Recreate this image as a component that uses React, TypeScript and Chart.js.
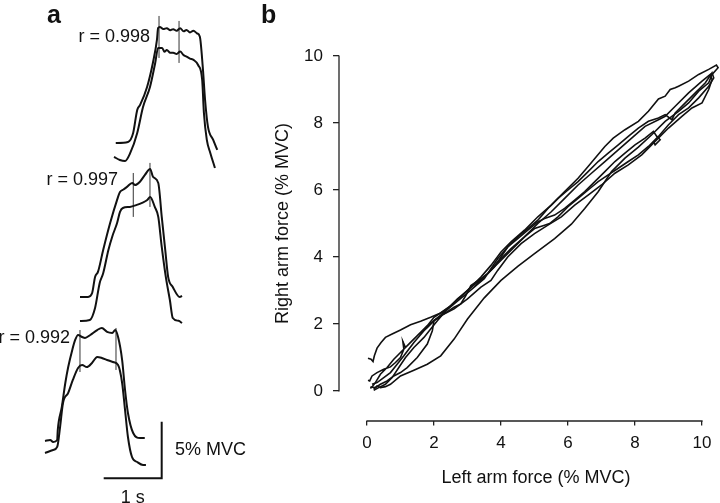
import React, { useEffect, useRef } from "react";
import { Chart, registerables } from "chart.js";

Chart.register(...registerables);
Chart.defaults.font.family = '"Liberation Sans", Arial, Helvetica, sans-serif';

type P = [number, number];

// ---------- Panel a: force traces (time in s from trace start, force in % MVC above pair baseline)
const pair1Upper: P[] = [
  [0.03, 1.94], [0.24, 2.03], [0.33, 2.83], [0.4, 4.86], [0.45, 5.3], [0.57, 6.89], [0.67, 9.01],
  [0.74, 11.04], [0.76, 12.1], [0.79, 12.19], [0.85, 12.0], [0.91, 12.08], [0.97, 11.9], [1.02, 11.99],
  [1.08, 11.85], [1.14, 12.08], [1.2, 11.8], [1.25, 11.93], [1.31, 11.7], [1.37, 11.86], [1.43, 11.63],
  [1.48, 11.33], [1.53, 8.66], [1.57, 5.74], [1.62, 3.36], [1.71, 2.21], [1.78, 1.33],
];
const pair1Lower: P[] = [
  [0, 0.71], [0.1, 0.44], [0.19, 0.35], [0.28, 1.06], [0.4, 2.83], [0.5, 5.12], [0.62, 6.89],
  [0.71, 9.01], [0.76, 10.34], [0.83, 10.34], [0.87, 10.0], [0.91, 10.16], [0.97, 9.9], [1.02, 9.92],
  [1.08, 9.8], [1.14, 10.01], [1.2, 9.7], [1.25, 9.57], [1.31, 9.4], [1.37, 9.28], [1.45, 8.83],
  [1.52, 7.51], [1.55, 4.59], [1.6, 2.21], [1.66, 1.06], [1.74, -0.27],
];
const pair2Upper: P[] = [
  [0, 2.21], [0.14, 2.21], [0.21, 2.56], [0.26, 3.98], [0.31, 4.42], [0.4, 6.36], [0.52, 8.74],
  [0.64, 10.78], [0.69, 11.48], [0.75, 11.7], [0.81, 11.93], [0.9, 12.28], [0.95, 12.1], [1.03, 12.37],
  [1.12, 12.99], [1.21, 13.52], [1.26, 12.81], [1.35, 12.28], [1.41, 9.28], [1.47, 6.36], [1.52, 3.98],
  [1.6, 3.09], [1.72, 2.21], [1.76, 2.3],
];
const pair2Lower: P[] = [
  [0, 0.09], [0.17, 0.18], [0.26, 1.24], [0.34, 3.45], [0.4, 4.3], [0.49, 6.36], [0.56, 7.6],
  [0.64, 8.74], [0.69, 9.72], [0.74, 10.07], [0.86, 10.16], [0.98, 10.34], [1.07, 10.52], [1.16, 10.78],
  [1.21, 11.04], [1.29, 10.16], [1.35, 9.28], [1.41, 6.63], [1.48, 3.98], [1.55, 1.94], [1.6, 0.35],
  [1.7, 0.1], [1.76, -0.09],
];
const pair3Upper: P[] = [
  [0, 1.24], [0.09, 1.33], [0.14, 1.15], [0.21, 1.33], [0.22, 2.21], [0.29, 4.24], [0.35, 6.36],
  [0.4, 7.77], [0.47, 9.28], [0.52, 10.16], [0.57, 10.6], [0.64, 10.42], [0.69, 10.34], [0.78, 10.6],
  [0.9, 11.04], [0.98, 11.22], [1.07, 10.87], [1.16, 10.78], [1.21, 11.04], [1.26, 10.42], [1.33, 8.39],
  [1.38, 5.74], [1.43, 3.71], [1.52, 1.94], [1.64, 1.5], [1.72, 1.5],
];
const pair3Lower: P[] = [
  [0, 0.18], [0.14, 0.44], [0.21, 0.71], [0.26, 2.47], [0.31, 4.59], [0.4, 5.48], [0.48, 6.63],
  [0.57, 7.69], [0.64, 7.95], [0.72, 7.77], [0.81, 8.13], [0.9, 8.66], [0.98, 8.57], [1.07, 8.39],
  [1.17, 8.22], [1.26, 7.95], [1.33, 6.36], [1.38, 3.98], [1.43, 1.59], [1.5, -0.18], [1.59, -0.62],
  [1.69, -0.88], [1.74, -0.88],
];
// marker lines: [time s, force from, force to]
const pair1Markers: [number, number, number][] = [[0.776, 9.45, 13.16], [1.121, 9.01, 12.72]];
const pair2Markers: [number, number, number][] = [[0.919, 9.28, 13.16], [1.207, 10.16, 14.05]];
const pair3Markers: [number, number, number][] = [[0.603, 7.33, 11.04], [1.224, 7.51, 11.22]];
const correlations = ["r = 0.998", "r = 0.997", "r = 0.992"];

// ---------- Panel b: right vs left arm force (% MVC)
const trialA: P[] = [
  [0.03, 0.98], [0.12, 0.95], [0.18, 0.88], [0.22, 1.05], [0.3, 1.28], [0.42, 1.45], [0.55, 1.6],
  [0.75, 1.7], [1.0, 1.82], [1.3, 1.98], [1.6, 2.08], [1.9, 2.2], [2.2, 2.33], [2.5, 2.55], [2.8, 2.82],
  [3.1, 3.1], [3.4, 3.4], [3.7, 3.75], [4.0, 4.15], [4.3, 4.45], [4.7, 4.8], [5.1, 5.2], [5.5, 5.55],
  [5.9, 5.95], [6.3, 6.35], [6.6, 6.7], [6.85, 7.0], [7.1, 7.3], [7.35, 7.55], [7.7, 7.8], [8.1, 8.05],
  [8.4, 8.35], [8.7, 8.72], [8.9, 8.8], [9.05, 9.0], [9.2, 9.05], [9.3, 9.1], [9.6, 9.25], [9.9, 9.45],
  [10.2, 9.6], [10.43, 9.73], [10.48, 9.65], [10.3, 9.45], [10.2, 9.2], [9.9, 8.95], [9.6, 8.6],
  [9.3, 8.35], [8.9, 8.05], [8.5, 7.65], [8.1, 7.28], [7.7, 6.95], [7.3, 6.55], [6.9, 5.95], [6.5, 5.45],
  [6.1, 4.98], [5.6, 4.55], [5.0, 4.1], [4.5, 3.72], [4.0, 3.3], [3.5, 2.78], [3.0, 2.15], [2.6, 1.55],
  [2.2, 1.05], [1.8, 0.8], [1.4, 0.62], [1.0, 0.45], [0.7, 0.2], [0.55, 0.13], [0.4, 0.1], [0.3, 0.15],
  [0.2, 0.05],
];
const trialB: P[] = [
  [0.03, 0.32], [0.08, 0.3], [0.15, 0.45], [0.3, 0.55], [0.5, 0.65], [0.7, 0.72], [0.85, 0.85],
  [1.0, 1.0], [1.1, 1.25], [1.07, 1.48], [1.15, 1.3], [1.3, 1.45], [1.5, 1.65], [1.8, 1.9], [2.0, 2.1],
  [2.3, 2.35], [2.6, 2.6], [2.9, 2.85], [3.2, 3.1], [3.5, 3.35], [3.7, 3.65], [3.9, 3.95], [4.2, 4.3],
  [4.5, 4.6], [4.8, 4.85], [5.1, 5.1], [5.4, 5.45], [5.7, 5.75], [6.0, 6.0], [6.3, 6.25], [6.6, 6.55],
  [6.9, 6.85], [7.2, 7.1], [7.5, 7.35], [7.8, 7.6], [8.1, 7.85], [8.4, 8.05], [8.7, 8.15], [8.9, 8.25],
  [9.1, 8.1], [9.2, 8.3], [9.5, 8.6], [9.8, 8.9], [10.1, 9.2], [10.3, 9.5], [10.35, 9.35], [10.2, 9.1],
  [9.9, 8.75], [9.6, 8.45], [9.3, 8.25], [9.0, 7.95], [8.7, 7.6], [8.4, 7.3], [8.1, 7.05], [7.8, 6.85],
  [7.5, 6.65], [7.2, 6.45], [6.9, 6.25], [6.6, 6.0], [6.3, 5.75], [6.0, 5.5], [5.7, 5.2], [5.45, 5.0],
  [5.3, 4.95], [5.0, 4.85], [4.7, 4.6], [4.4, 4.3], [4.1, 4.0], [3.8, 3.7], [3.5, 3.4], [3.2, 3.1],
  [2.9, 2.85], [2.6, 2.6], [2.3, 2.4], [2.0, 2.2], [1.8, 1.95], [1.6, 1.75], [1.3, 1.45], [1.0, 1.15],
  [0.8, 0.95], [0.6, 0.7], [0.4, 0.5], [0.25, 0.25], [0.15, 0.12], [0.1, 0.08],
];
const trialC: P[] = [
  [0.1, 0.12], [0.25, 0.1], [0.4, 0.2], [0.6, 0.3], [0.8, 0.45], [1.0, 0.55], [1.2, 0.7], [1.5, 1.0],
  [1.8, 1.4], [1.95, 1.8], [2.0, 2.1], [2.3, 2.3], [2.6, 2.5], [2.8, 2.6], [2.95, 2.85], [3.1, 3.15],
  [3.4, 3.35], [3.6, 3.5], [3.8, 3.7], [4.0, 4.0], [4.2, 4.3], [4.5, 4.55], [4.8, 4.8], [5.1, 5.05],
  [5.3, 5.15], [5.6, 5.25], [5.9, 5.45], [6.2, 5.7], [6.5, 5.95], [6.8, 6.25], [7.1, 6.55], [7.4, 6.85],
  [7.7, 7.1], [8.0, 7.35], [8.3, 7.55], [8.55, 7.75], [8.65, 7.6], [8.75, 7.5], [8.6, 7.35], [8.55, 7.45],
];
const trialD: P[] = [
  [0.2, 0.02], [0.35, 0.1], [0.55, 0.2], [0.75, 0.4], [0.95, 0.7], [1.15, 1.0], [1.4, 1.3], [1.7, 1.6],
  [1.9, 1.85], [2.1, 2.1], [2.4, 2.45], [2.7, 2.75], [3.0, 3.0], [3.3, 3.25], [3.6, 3.5], [3.9, 3.85],
  [4.3, 4.25], [4.7, 4.6], [5.1, 5.0], [5.5, 5.35], [5.9, 5.75], [6.3, 6.15], [6.7, 6.5], [7.1, 6.85],
  [7.5, 7.2], [7.9, 7.55], [8.3, 7.9], [8.7, 8.1], [8.9, 8.2], [9.2, 8.5], [9.6, 8.9], [10.0, 9.25],
  [10.25, 9.45], [10.3, 9.3], [10.2, 9.0], [10.0, 8.6], [9.7, 8.45], [9.4, 8.2], [9.0, 7.85], [8.6, 7.45],
  [8.2, 7.05], [7.8, 6.75], [7.4, 6.5], [7.0, 6.15], [6.6, 5.85], [6.2, 5.55], [5.8, 5.2], [5.4, 4.95],
  [5.0, 4.7], [4.6, 4.4], [4.2, 4.0], [3.9, 3.6], [3.7, 3.3], [3.4, 3.1], [3.0, 2.75], [2.6, 2.45],
  [2.3, 2.3], [2.0, 2.1], [1.7, 1.8], [1.4, 1.45], [1.1, 1.05], [0.9, 0.8], [0.7, 0.55], [0.5, 0.4],
  [0.3, 0.25], [0.15, 0.2],
];
const xTicks = [0, 2, 4, 6, 8, 10];
const yTicks = [0, 2, 4, 6, 8, 10];
const xTitle = "Left arm force (% MVC)";
const yTitle = "Right arm force (% MVC)";

// ---------- layout (panel a frame in s / % MVC)
const A_X_MAX = 4.483;
const A_Y_MAX = 44.43;
const pairOrigins = [
  { t: 1.966, v: 29.86 },
  { t: 1.379, v: 15.99 },
  { t: 0.776, v: 4.24 },
];
const labelAnchors = [
  { t: 2.586, v: 41.17 },
  { t: 2.034, v: 28.53 },
  { t: 1.207, v: 14.58 },
];
const scaleBar = { t: 2.788, v: 2.18, dt: 1, dv: 5 };

const FONT = '"Liberation Sans", Arial, Helvetica, sans-serif';
const INK = "#111";

function PanelA() {
  const ref = useRef<HTMLCanvasElement>(null);
  useEffect(() => {
    const pairs = [
      { traces: [pair1Upper, pair1Lower], markers: pair1Markers },
      { traces: [pair2Upper, pair2Lower], markers: pair2Markers },
      { traces: [pair3Upper, pair3Lower], markers: pair3Markers },
    ];
    const datasets: any[] = [];
    pairs.forEach((p, i) => {
      const o = pairOrigins[i];
      p.traces.forEach((tr) =>
        datasets.push({
          data: tr.map(([t, f]) => ({ x: o.t + t, y: o.v + f })),
          borderColor: INK,
          borderWidth: 2,
          pointRadius: 0,
          showLine: true,
          fill: false,
          cubicInterpolationMode: "monotone",
        })
      );
      p.markers.forEach(([t, lo, hi]) =>
        datasets.push({
          data: [
            { x: o.t + t, y: o.v + lo },
            { x: o.t + t, y: o.v + hi },
          ],
          borderColor: "#333",
          borderWidth: 1,
          pointRadius: 0,
          showLine: true,
        })
      );
    });
    datasets.push({
      data: [
        { x: scaleBar.t - scaleBar.dt, y: scaleBar.v },
        { x: scaleBar.t, y: scaleBar.v },
        { x: scaleBar.t, y: scaleBar.v + scaleBar.dv },
      ],
      borderColor: INK,
      borderWidth: 2,
      pointRadius: 0,
      showLine: true,
    });

    const textPlugin = {
      id: "panelAText",
      afterDraw(chart: any) {
        const { ctx } = chart;
        const xs = chart.scales.x;
        const ys = chart.scales.y;
        ctx.save();
        ctx.fillStyle = INK;
        ctx.font = `bold 25px ${FONT}`;
        ctx.textAlign = "left";
        ctx.textBaseline = "alphabetic";
        ctx.fillText("a", 47, 23);
        ctx.font = `18px ${FONT}`;
        ctx.textBaseline = "middle";
        ctx.textAlign = "right";
        correlations.forEach((txt, i) => {
          const a = labelAnchors[i];
          ctx.fillText(txt, xs.getPixelForValue(a.t), ys.getPixelForValue(a.v));
        });
        ctx.textAlign = "left";
        ctx.fillText(
          `${scaleBar.dv}% MVC`,
          xs.getPixelForValue(scaleBar.t + 0.23),
          ys.getPixelForValue(scaleBar.v + 2.5)
        );
        ctx.textAlign = "center";
        ctx.fillText(
          `${scaleBar.dt} s`,
          xs.getPixelForValue(scaleBar.t - scaleBar.dt / 2),
          ys.getPixelForValue(scaleBar.v - 1.75)
        );
        ctx.restore();
      },
    };

    const chart = new Chart(ref.current!, {
      type: "scatter",
      data: { datasets },
      options: {
        animation: false,
        responsive: false,
        events: [],
        layout: { padding: 0 },
        plugins: { legend: { display: false }, tooltip: { enabled: false } },
        scales: {
          x: { type: "linear", min: 0, max: A_X_MAX, display: false },
          y: { type: "linear", min: 0, max: A_Y_MAX, display: false },
        },
      },
      plugins: [textPlugin],
    } as any);
    return () => chart.destroy();
  }, []);
  return (
    <canvas
      ref={ref}
      width={260}
      height={503}
      style={{ position: "absolute", left: 0, top: 0, width: 260, height: 503 }}
    />
  );
}

function PanelB() {
  const ref = useRef<HTMLCanvasElement>(null);
  useEffect(() => {
    const trials = [trialA, trialB, trialC, trialD];
    const datasets = trials.map((tr) => ({
      data: tr.map(([x, y]) => ({ x, y })),
      borderColor: INK,
      borderWidth: 1.6,
      pointRadius: 0,
      showLine: true,
      fill: false,
    }));

    const axisPlugin = {
      id: "detachedAxes",
      afterDraw(chart: any) {
        const { ctx, chartArea } = chart;
        const xs = chart.scales.x;
        const ys = chart.scales.y;
        ctx.save();
        ctx.strokeStyle = "#222";
        ctx.lineWidth = 1.3;
        ctx.beginPath();
        ctx.moveTo(chartArea.left, ys.getPixelForValue(yTicks[0]) + 0.6);
        ctx.lineTo(chartArea.left, ys.getPixelForValue(yTicks[yTicks.length - 1]) - 0.6);
        ctx.moveTo(xs.getPixelForValue(xTicks[0]) - 0.6, chartArea.bottom);
        ctx.lineTo(xs.getPixelForValue(xTicks[xTicks.length - 1]) + 0.6, chartArea.bottom);
        ctx.stroke();
        ctx.fillStyle = INK;
        ctx.font = `bold 25px ${FONT}`;
        ctx.textAlign = "left";
        ctx.textBaseline = "alphabetic";
        ctx.fillText("b", 1, 23);
        ctx.restore();
      },
    };

    const tickFont = { size: 17, family: FONT };
    const titleFont = { size: 18, family: FONT };
    const chart = new Chart(ref.current!, {
      type: "scatter",
      data: { datasets },
      options: {
        animation: false,
        responsive: false,
        events: [],
        layout: { padding: { left: 0, right: 0, top: 26, bottom: 0 } },
        plugins: { legend: { display: false }, tooltip: { enabled: false } },
        scales: {
          x: {
            type: "linear",
            min: -0.8358,
            max: 10.925,
            afterBuildTicks: (s: any) => {
              s.ticks = xTicks.map((value) => ({ value }));
            },
            afterFit: (s: any) => {
              s.height = 82;
            },
            border: { display: false },
            grid: { drawOnChartArea: false, drawTicks: true, tickLength: 4.5, color: "#222", lineWidth: 1.3 },
            ticks: { padding: 7.5, font: tickFont, color: INK, maxRotation: 0, autoSkip: false },
            title: { display: true, text: xTitle, font: titleFont, color: INK, padding: { top: 0, bottom: 14 } },
          },
          y: {
            type: "linear",
            min: -0.8955,
            max: 10.896,
            afterBuildTicks: (s: any) => {
              s.ticks = yTicks.map((value) => ({ value }));
            },
            afterFit: (s: any) => {
              s.width = 79;
            },
            border: { display: false },
            grid: { drawOnChartArea: false, drawTicks: true, tickLength: 6, color: "#222", lineWidth: 1.3 },
            ticks: { padding: 10, font: tickFont, color: INK, autoSkip: false },
            title: { display: true, text: yTitle, font: titleFont, color: INK, padding: { top: 12, bottom: 0 } },
          },
        },
      },
      plugins: [axisPlugin],
    } as any);
    return () => chart.destroy();
  }, []);
  return (
    <canvas
      ref={ref}
      width={473}
      height={503}
      style={{ position: "absolute", left: 260, top: 0, width: 473, height: 503 }}
    />
  );
}

export default function App() {
  return (
    <div
      style={{
        position: "fixed",
        left: 0,
        top: 0,
        width: 720,
        height: 503,
        overflow: "hidden",
        background: "#fff",
      }}
    >
      <PanelA />
      <PanelB />
    </div>
  );
}
